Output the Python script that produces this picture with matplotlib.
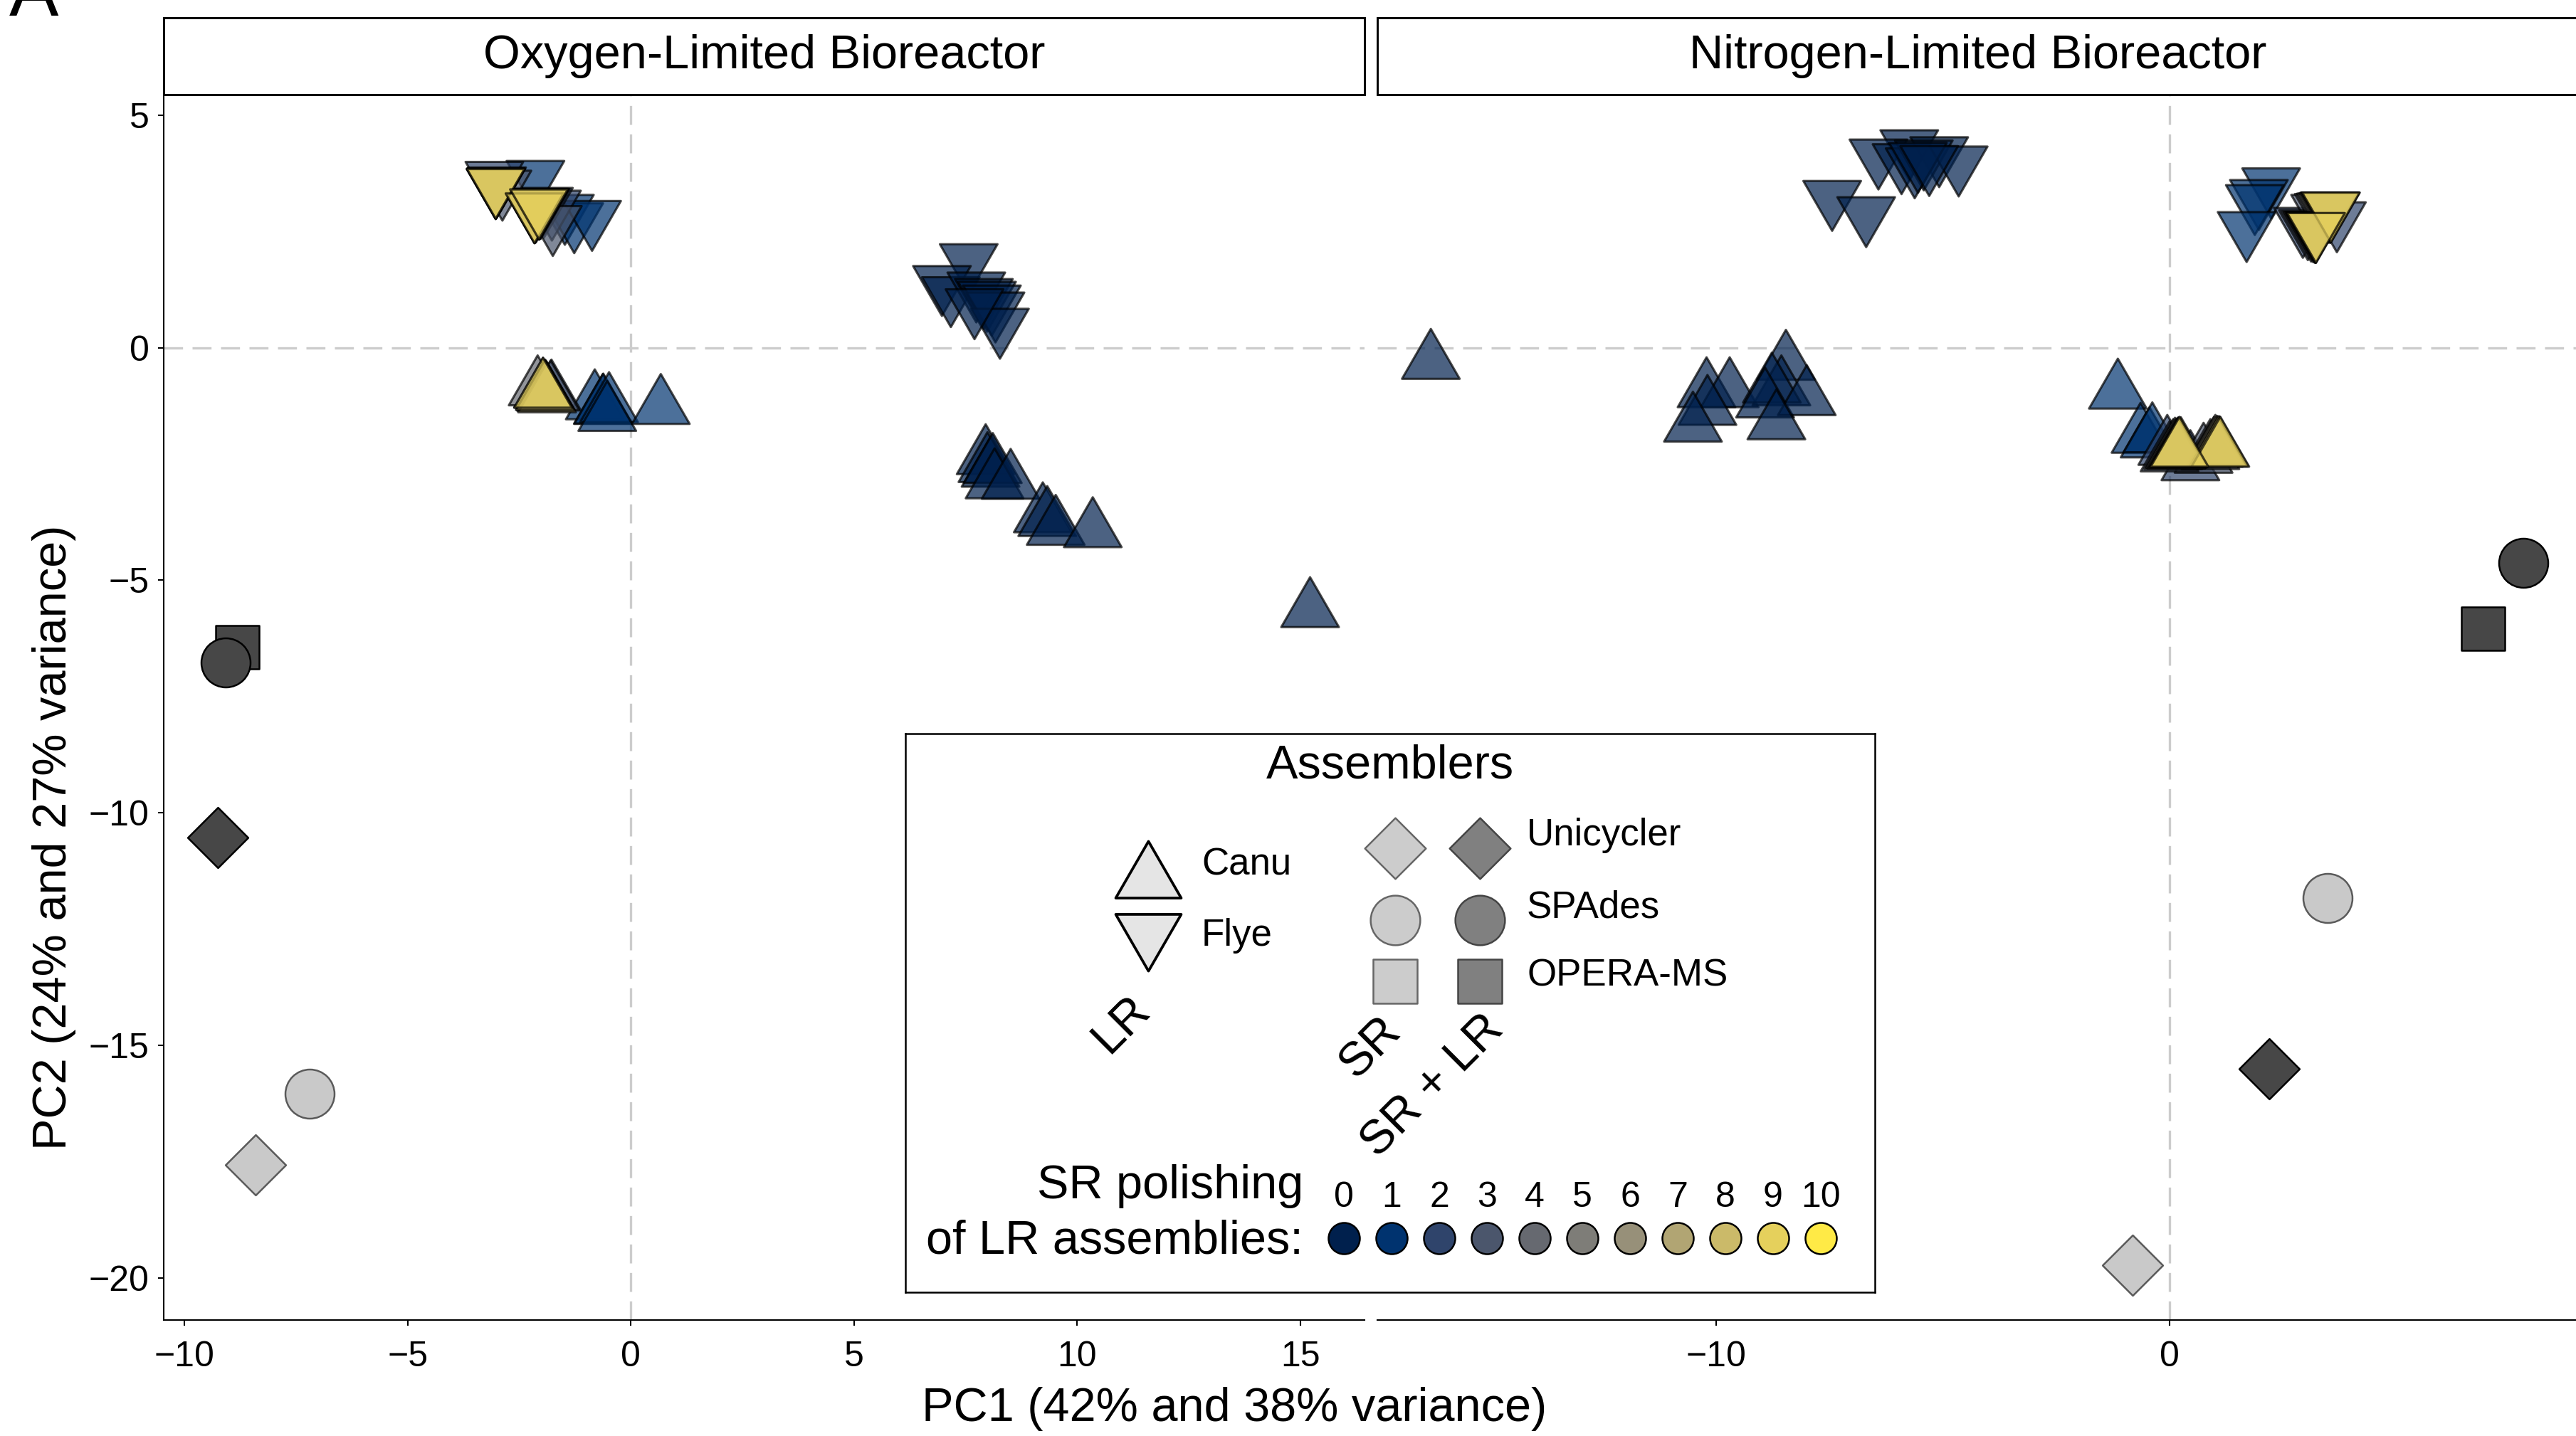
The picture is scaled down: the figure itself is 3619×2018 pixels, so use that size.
import numpy as np
import matplotlib
matplotlib.use("Agg")
import matplotlib.pyplot as plt
from matplotlib.path import Path
from matplotlib.colors import to_rgba

plt.rcParams['font.family'] = ['Liberation Sans', 'DejaVu Sans']

W, H, DPI = 3619, 2018, 300

polish_rounds = [0, 1, 2, 3, 4, 5, 6, 7, 8, 9, 10]
round_colors = ['#00204D', '#00336F', '#2F446B', '#4B566C', '#666970', '#7E7D78',
                '#979079', '#B1A573', '#CBBA69', '#E5D05C', '#FFEA46']

# ---- Oxygen-limited bioreactor: long-read assemblies ----
olb_flye_x = [7.57, 6.97, 7.17, 7.74, 7.91, 7.98, 8.09, 8.17, 8.27, 7.70,
              -2.14, -1.48, -1.27, -0.87,
              -3.06, -2.88, -3.00, -3.02, -3.03, -3.03, -3.03, -3.03, -3.02,
              -1.77, -1.75, -2.13, -2.15, -2.16, -2.16, -2.16, -2.16, -2.15,
              -1.95, -2.02, -2.04, -2.05, -2.06, -2.06, -2.06, -2.06, -2.05]
olb_flye_y = [1.87, 1.40, 1.16, 1.26, 1.12, 1.06, 0.98, 0.83, 0.48, 0.90,
              3.66, 2.93, 2.75, 2.80,
              3.64, 3.45, 3.52, 3.50, 3.49, 3.49, 3.48, 3.49, 3.50,
              3.02, 2.69, 2.98, 2.97, 2.97, 2.97, 2.97, 2.96, 2.98,
              3.08, 3.06, 3.05, 3.05, 3.05, 3.05, 3.04, 3.05, 3.06]
olb_flye_round = [0, 0, 0, 0, 0, 0, 0, 0, 0, 0,
                  1, 1, 1, 1,
                  2, 3, 4, 5, 6, 7, 8, 9, 10,
                  2, 3, 4, 5, 6, 7, 8, 9, 10,
                  2, 3, 4, 5, 6, 7, 8, 9, 10]

olb_canu_x = [7.95, 7.99, 8.06, 8.11, 8.15, 8.51, 9.23, 9.33, 9.52, 10.35, 15.22,
              -0.81, -0.63, -0.62, -0.49, -0.53, 0.67,
              -1.78, -1.80, -2.09, -1.92, -1.90, -1.88, -1.93, -1.97, -1.97]
olb_canu_y = [-2.36, -2.53, -2.63, -2.55, -2.88, -2.89, -3.61, -3.69, -3.88, -3.93, -5.65,
              -1.18, -1.28, -1.27, -1.24, -1.43, -1.28,
              -0.97, -0.99, -0.88, -0.97, -1.00, -1.03, -0.98, -0.93, -0.93]
olb_canu_round = [0, 0, 0, 0, 0, 0, 0, 0, 0, 0, 0,
                  1, 1, 1, 1, 1, 1,
                  2, 3, 4, 5, 6, 7, 8, 9, 10]

# ---- Nitrogen-limited bioreactor: long-read assemblies ----
nlb_flye_x = [-5.74, -6.42, -5.91, -5.08, -5.62, -5.42, -4.65, -7.44, -6.69, -5.55, -5.30,
              2.24, 1.97, 1.88, 1.70,
              3.69, 3.32, 3.40, 3.45, 3.50, 3.53, 3.55, 3.56, 3.54,
              2.94, 3.05, 3.12, 3.16, 3.19, 3.21, 3.22, 3.23, 3.22]
nlb_flye_y = [4.32, 4.12, 4.02, 4.17, 3.93, 4.10, 3.97, 3.23, 2.88, 4.05, 3.98,
              3.50, 3.25, 3.14, 2.56,
              2.77, 2.93, 2.95, 2.96, 2.97, 2.98, 2.98, 2.98, 2.97,
              2.65, 2.60, 2.57, 2.56, 2.55, 2.54, 2.54, 2.54, 2.55]
nlb_flye_round = [0, 0, 0, 0, 0, 0, 0, 0, 0, 0, 0,
                  1, 1, 1, 1,
                  2, 3, 4, 5, 6, 7, 8, 9, 10,
                  2, 3, 4, 5, 6, 7, 8, 9, 10]

nlb_canu_x = [-10.21, -9.70, -10.19, -10.51, -8.46, -8.56, -8.77, -8.92, -8.00, -8.67, -16.29,
              -1.14, -0.64, -0.44, -0.38,
              0.46, 0.75, 0.90, 0.98, 1.01, 1.05, 1.08, 1.12, 1.10,
              -0.05, 0.00, 0.08, 0.12, 0.15, 0.18, 0.20, 0.22, 0.25]
nlb_canu_y = [-0.92, -0.92, -1.30, -1.66, -0.33, -0.88, -0.82, -1.14, -1.09, -1.61, -0.31,
              -0.95, -1.90, -2.00, -1.89,
              -2.49, -2.33, -2.25, -2.20, -2.16, -2.18, -2.19, -2.20, -2.19,
              -2.16, -2.30, -2.25, -2.22, -2.24, -2.22, -2.21, -2.20, -2.21]
nlb_canu_round = [0, 0, 0, 0, 0, 0, 0, 0, 0, 0, 0,
                  1, 1, 1, 1,
                  2, 3, 4, 5, 6, 7, 8, 9, 10,
                  2, 3, 4, 5, 6, 7, 8, 9, 10]

# ---- short-read based assemblies ----
olb_sr_x = [-8.82, -9.09, -9.26, -7.20, -8.42]
olb_sr_y = [-6.43, -6.77, -10.54, -16.04, -17.57]
olb_sr_assembler = ['OPERA-MS', 'SPAdes', 'Unicycler', 'SPAdes', 'Unicycler']
olb_sr_input = ['SR + LR', 'SR + LR', 'SR + LR', 'SR', 'SR']

nlb_sr_x = [6.90, 7.80, 2.19, 3.49, -0.82]
nlb_sr_y = [-6.04, -4.63, -15.50, -11.83, -19.73]
nlb_sr_assembler = ['OPERA-MS', 'SPAdes', 'Unicycler', 'SPAdes', 'Unicycler']
nlb_sr_input = ['SR + LR', 'SR + LR', 'SR + LR', 'SR', 'SR']

panel_titles = ['Oxygen-Limited Bioreactor', 'Nitrogen-Limited Bioreactor']


def px2pt(p):
    return p * 72.0 / DPI


def triangle(up=True):
    h = np.sqrt(3) / 2
    s = 1 if up else -1
    verts = [(0, s * 2 * h / 3), (-0.5, -s * h / 3), (0.5, -s * h / 3), (0, s * 2 * h / 3)]
    return Path(verts, [Path.MOVETO, Path.LINETO, Path.LINETO, Path.CLOSEPOLY])


TRI_SCALE = 2 * (np.sqrt(3) / 3)  # custom marker gets rescaled by its max extent
TRI_UP, TRI_DOWN = triangle(True), triangle(False)
sr_marker = {'Unicycler': 'D', 'SPAdes': 'o', 'OPERA-MS': 's'}
sr_size = {'Unicycler': px2pt(60), 'SPAdes': px2pt(69), 'OPERA-MS': px2pt(61)}
sr_fill = {'SR': '#C9C9C9', 'SR + LR': '#474747'}
sr_edge = {'SR': '#5A5A5A', 'SR + LR': '#000000'}


def draw_lr(ax, xs, ys, rnds, marker):
    # ggplot drew the rounds in character order: 0, 1, 10, 2, ... 9
    order = sorted(range(len(xs)), key=lambda i: str(rnds[i]))
    x = [xs[i] for i in order]
    y = [ys[i] for i in order]
    fc = [to_rgba(round_colors[polish_rounds.index(rnds[i])], 0.7) for i in order]
    ms = px2pt(81) * TRI_SCALE
    ax.scatter(x, y, s=ms ** 2, marker=marker, facecolors=fc,
               edgecolors=[(0, 0, 0, 0.7)], linewidths=0.75, zorder=3)


def draw_sr(ax, xs, ys, asm, inp):
    for x, y, a, t in zip(xs, ys, asm, inp):
        ax.scatter([x], [y], s=sr_size[a] ** 2, marker=sr_marker[a],
                   facecolors=sr_fill[t], edgecolors=sr_edge[t], linewidths=0.6, zorder=3)


fig = plt.figure(figsize=(W / DPI, H / DPI), dpi=DPI)

ax_bottom = 1 - 1855 / H
ax_height = (1855 - 132.6) / H
ax_width = 1687 / W
ax1 = fig.add_axes([230 / W, ax_bottom, ax_width, ax_height])
ax2 = fig.add_axes([1935 / W, ax_bottom, ax_width, ax_height])

ax1.set_xlim(-10.47, 16.44)
ax2.set_xlim(-17.47, 9.01)
for ax in (ax1, ax2):
    ax.set_ylim(-20.91, 5.45)
    ax.axhline(0, color='#CCCCCC', lw=0.8, dashes=(8, 4), zorder=1)
    ax.axvline(0, color='#CCCCCC', lw=0.8, dashes=(8, 4), zorder=1)
    ax.spines['top'].set_visible(False)
    ax.spines['right'].set_visible(False)
    ax.spines['bottom'].set_linewidth(0.5)
    ax.spines['left'].set_linewidth(0.5)
    ax.tick_params(length=1.9, width=0.5, labelsize=12, colors='black')
    ax.tick_params(axis='x', pad=5)
    ax.tick_params(axis='y', pad=3)

ax1.set_xticks([-10, -5, 0, 5, 10, 15])
ax1.set_yticks([5, 0, -5, -10, -15, -20])
ax2.set_xticks([-10, 0])
ax2.set_yticks([])
ax2.spines['left'].set_visible(False)

draw_sr(ax1, olb_sr_x, olb_sr_y, olb_sr_assembler, olb_sr_input)
draw_lr(ax1, olb_canu_x, olb_canu_y, olb_canu_round, TRI_UP)
draw_lr(ax1, olb_flye_x, olb_flye_y, olb_flye_round, TRI_DOWN)

draw_sr(ax2, nlb_sr_x, nlb_sr_y, nlb_sr_assembler, nlb_sr_input)
draw_lr(ax2, nlb_canu_x, nlb_canu_y, nlb_canu_round, TRI_UP)
draw_lr(ax2, nlb_flye_x, nlb_flye_y, nlb_flye_round, TRI_DOWN)

# facet strips
for left, title in zip([230, 1935], panel_titles):
    st = fig.add_axes([left / W, 1 - 132.6 / H, ax_width, (132.6 - 25.4) / H])
    st.set_xticks([])
    st.set_yticks([])
    for sp in st.spines.values():
        sp.set_linewidth(0.7)
    st.text(0.5, 0.5, title, fontsize=16, ha='center', va='center', transform=st.transAxes)

fig.text(1734 / W, 1 - 1980 / H, 'PC1 (42% and 38% variance)', fontsize=16, ha='center', va='center')
fig.text(76 / W, 1 - 1177 / H, 'PC2 (24% and 27% variance)', fontsize=16, ha='center', va='center',
         rotation=90)
fig.text(48 / W, 1 - 22 / H, 'A', fontsize=25, ha='center', va='baseline')

# custom legend box (coordinates in image pixels)
lg = fig.add_axes([1272 / W, 1 - 1816 / H, (2634 - 1272) / W, (1816 - 1031) / H], zorder=10)
lg.set_xlim(1272, 2634)
lg.set_ylim(1816, 1031)
lg.set_xticks([])
lg.set_yticks([])
for sp in lg.spines.values():
    sp.set_linewidth(0.6)

lg.text(1953, 1076, 'Assemblers', fontsize=16, ha='center', va='center')
tri_ms = px2pt(92) * TRI_SCALE
lg.scatter([1613], [1235], s=tri_ms ** 2, marker=TRI_UP, facecolors='#E5E5E5',
           edgecolors='black', linewidths=0.9)
lg.scatter([1613], [1311], s=tri_ms ** 2, marker=TRI_DOWN, facecolors='#E5E5E5',
           edgecolors='black', linewidths=0.9)
lg.text(1688, 1216, 'Canu', fontsize=12.7, ha='left', va='center')
lg.text(1688, 1315, 'Flye', fontsize=12.7, ha='left', va='center')

legend_rows = [('Unicycler', 1192), ('SPAdes', 1293), ('OPERA-MS', 1379)]
for name, yy in legend_rows:
    lg.scatter([1960], [yy], s=sr_size[name] ** 2 * 1.02, marker=sr_marker[name],
               facecolors='#CCCCCC', edgecolors='#666666', linewidths=0.6)
    lg.scatter([2079], [yy], s=sr_size[name] ** 2 * 1.02, marker=sr_marker[name],
               facecolors='#808080', edgecolors='#444444', linewidths=0.6)
lg.text(2145, 1174, 'Unicycler', fontsize=12.7, ha='left', va='center')
lg.text(2145, 1275, 'SPAdes', fontsize=12.7, ha='left', va='center')
lg.text(2145, 1372, 'OPERA-MS', fontsize=12.7, ha='left', va='center')

lg.text(1576, 1440, 'LR', fontsize=16, rotation=45, ha='center', va='center', rotation_mode='anchor')
lg.text(1925, 1473, 'SR', fontsize=16, rotation=45, ha='center', va='center', rotation_mode='anchor')
lg.text(2013, 1527, 'SR + LR', fontsize=16, rotation=45, ha='center', va='center',
        rotation_mode='anchor')

lg.text(1831, 1667, 'SR polishing', fontsize=16, ha='right', va='center')
lg.text(1831, 1745, 'of LR assemblies:', fontsize=16, ha='right', va='center')
for k, (r, c) in enumerate(zip(polish_rounds, round_colors)):
    xx = 1888.4 + k * 66.96
    lg.text(xx, 1683, str(r), fontsize=12, ha='center', va='center')
    lg.scatter([xx], [1740], s=px2pt(44) ** 2, marker='o', facecolors=c,
               edgecolors='black', linewidths=0.6)

fig.savefig('out.png', dpi=DPI)
